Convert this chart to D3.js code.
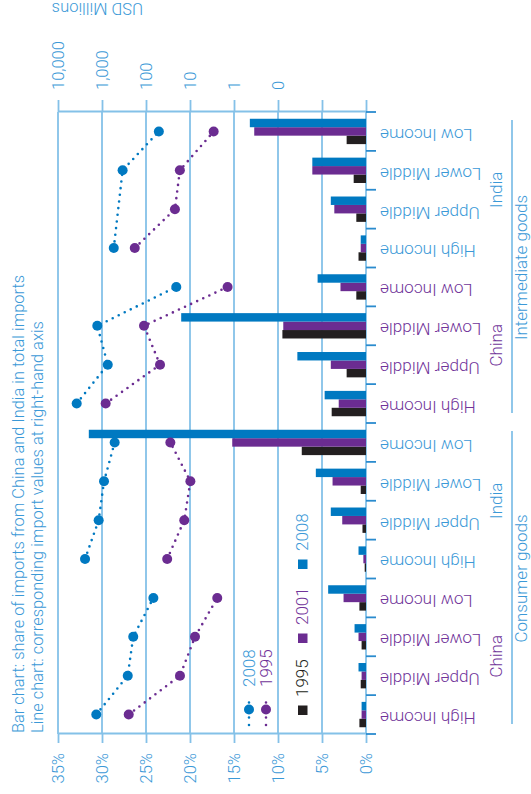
<!DOCTYPE html>
<html>
<head>
<meta charset="utf-8">
<script src="https://cdn.jsdelivr.net/npm/d3@7"></script>
<style>
  body { margin: 0; background: #fff; }
  svg text { font-family: Roboto, "Liberation Sans", Arial, sans-serif; font-weight: 300; }
</style>
</head>
<body>
<svg id="chart" width="531" height="794"></svg>
<script>
// ---- data ----------------------------------------------------------------
// categories run left to right: China consumer, India consumer, China intermediate, India intermediate
const incomeLevels = ["High Income", "Upper Middle", "Lower Middle", "Low Income"];
const countries = ["China", "India", "China", "India"];
const sectors = ["Consumer goods", "Intermediate goods"];
const barYears = ["1995", "2001", "2008"];
const lineYears = ["2008", "1995"];

// share of imports from China / India in total imports (%)
const share1995 = [0.75, 0.6, 0.5, 0.75,  0.15, 0.4, 0.6, 7.3,   3.9, 2.2, 9.5, 1.1,   0.85, 1.1, 1.4, 2.2];
const share2001 = [0.5, 0.5, 0.85, 2.55,  0.3, 2.7, 3.8, 15.2,   3.1, 4.0, 9.4, 2.9,   0.6, 3.6, 6.1, 12.7];
const share2008 = [0.5, 0.85, 1.3, 4.3,   0.85, 4.0, 5.7, 31.5,  4.7, 7.8, 21.0, 5.5,  0.6, 4.0, 6.1, 13.2];

// corresponding import values (USD millions, right-hand log axis)
const value2008 = [1350, 260, 195, 68,   2430, 1190, 900, 515,   3760, 740, 1280, 20.5,   540, null, 340, 51];
const value1995 = [247, 16.9, 7.7, 2.4,  33, 13.5, 9.8, 28,      825, 48, 111, 1.4,       180, 22, 17, 2.9];

const pctTicks = [0, 5, 10, 15, 20, 25, 30, 35];
const logTicks = [10000, 1000, 100, 10, 1, 0.1, 0.01, 0.001];
const logTickLabels = ["10,000", "1,000", "100", "10", "1", "0", "", ""];

// ---- styles ----------------------------------------------------------------
const C = {
  textBlue: "#3b99d7",
  grid: "#84c1e8",
  tick: "#2a8bce",
  blue: "#0079c1",
  purple: "#6b2c91",
  purpleText: "#71349a",
  black: "#231f20"
};
const barColor = { "1995": C.black, "2001": C.purple, "2008": C.blue };
const lineColor = { "2008": C.blue, "1995": C.purple };
const lineValues = { "2008": value2008, "1995": value1995 };
const barValues = { "1995": share1995, "2001": share2001, "2008": share2008 };

// The chart is laid out as a wide column chart (794 x 531) and turned a quarter
// turn counter-clockwise onto the portrait page.
const W = 794;
const svg = d3.select("#chart");
const g = svg.append("g").attr("transform", `translate(0,${W}) rotate(-90)`);

const plotLeft = 60, plotRight = 682, plotTop = 58, plotBottom = 366;
const cats = d3.range(16);
const x = d3.scaleBand().domain(cats).range([plotLeft, plotRight]);
const bw = x.bandwidth();
const xYear = d3.scaleBand().domain(barYears).range([0, bw]).paddingInner(0).paddingOuter(0.8);
const yPct = d3.scaleLinear().domain([0, 35]).range([plotBottom, plotTop]);
const yLog = d3.scaleLog().domain([0.001, 10000]).range([plotBottom, plotTop]);

// gridlines
g.append("g").selectAll("line").data(pctTicks).join("line")
  .attr("x1", plotLeft).attr("x2", plotRight)
  .attr("y1", d => yPct(d)).attr("y2", d => yPct(d))
  .attr("stroke", C.grid).attr("stroke-width", 1.8);

// left axis: share in %
const axL = g.append("g").attr("transform", `translate(${plotLeft},0)`)
  .call(d3.axisLeft(yPct).tickValues(pctTicks).tickSize(9).tickSizeOuter(0).tickPadding(10)
    .tickFormat(d => d + "%"));

// right axis: USD millions, log scale
const axR = g.append("g").attr("transform", `translate(${plotRight},0)`)
  .call(d3.axisRight(yLog).tickValues(logTicks).tickSize(12).tickSizeOuter(0).tickPadding(10)
    .tickFormat((d, i) => logTickLabels[i]));

[axL, axR].forEach(ax => {
  ax.attr("font-family", null);
  ax.select(".domain").attr("stroke", C.grid).attr("stroke-width", 1.8);
  ax.selectAll(".tick line").attr("stroke", C.grid).attr("stroke-width", 1.8);
  ax.selectAll(".tick text").attr("fill", C.textBlue).attr("font-size", 16.5);
});

g.append("text")
  .attr("transform", `translate(791,143) rotate(-90)`)
  .attr("fill", C.textBlue).attr("font-size", 16.5)
  .text("USD Millions");

// bars
barYears.forEach(yr => {
  g.append("g").selectAll("rect").data(cats).join("rect")
    .attr("x", c => x(c) + xYear(yr))
    .attr("width", xYear.bandwidth())
    .attr("y", c => yPct(barValues[yr][c]))
    .attr("height", c => plotBottom - yPct(barValues[yr][c]))
    .attr("fill", barColor[yr]);
});

// category axis: boundary ticks and rotated labels
const axB = g.append("g").attr("transform", `translate(0,${plotBottom})`)
  .call(d3.axisBottom(x).tickSize(0).tickPadding(14).tickFormat(c => incomeLevels[c % 4]));
axB.select(".domain").remove();
axB.attr("font-family", null);
axB.selectAll(".tick text")
  .attr("transform", "rotate(-90)")
  .attr("text-anchor", "end")
  .attr("dy", "0.15em")
  .attr("x", -14).attr("y", 0)
  .attr("font-size", 17.2)
  .attr("fill", c => countries[Math.floor(c / 4)] === "China" ? C.purpleText : C.textBlue);

g.append("g").selectAll("line").data(d3.range(17)).join("line")
  .attr("x1", i => plotLeft + i * x.step()).attr("x2", i => plotLeft + i * x.step())
  .attr("y1", plotBottom).attr("y2", plotBottom + 10)
  .attr("stroke", C.tick).attr("stroke-width", 1.8);

// country and sector labels
countries.forEach((name, k) => {
  const cx = (x(k * 4) + x(k * 4 + 3) + bw) / 2;
  g.append("text").attr("x", cx).attr("y", 502)
    .attr("text-anchor", "middle").attr("font-size", 17)
    .attr("fill", name === "China" ? C.purpleText : C.textBlue)
    .text(name);
});
sectors.forEach((name, k) => {
  const x0 = x(k * 8), x1 = x(k * 8 + 7) + bw;
  g.append("line").attr("x1", x0 + 10).attr("x2", x1 - 8)
    .attr("y1", 512).attr("y2", 512)
    .attr("stroke", C.grid).attr("stroke-width", 1.8);
  g.append("text").attr("x", (x0 + x1) / 2).attr("y", 527)
    .attr("text-anchor", "middle").attr("font-size", 17)
    .attr("fill", C.textBlue).text(name);
});

// dotted lines with markers, one run per country block
const line = d3.line().x(c => x(c) + bw / 2);
lineYears.forEach(yr => {
  const vals = lineValues[yr];
  line.y(c => yLog(vals[c]));
  const lg = g.append("g");
  d3.range(4).forEach(k => {
    const pts = d3.range(k * 4, k * 4 + 4).filter(c => vals[c] != null);
    lg.append("path").attr("d", line(pts))
      .attr("fill", "none").attr("stroke", lineColor[yr])
      .attr("stroke-width", 2.6).attr("stroke-linecap", "round")
      .attr("stroke-dasharray", "0 6.7");
  });
  lg.selectAll("circle").data(cats.filter(c => vals[c] != null)).join("circle")
    .attr("cx", c => x(c) + bw / 2).attr("cy", c => yLog(vals[c]))
    .attr("r", 5).attr("fill", lineColor[yr]);
});

// title
g.append("text").attr("x", 61).attr("y", 24).attr("font-size", 16.4).attr("fill", C.textBlue)
  .text("Bar chart: share of imports from China and India in total imports");
g.append("text").attr("x", 61).attr("y", 43).attr("font-size", 16.4).attr("fill", C.textBlue)
  .text("Line chart: corresponding import values at right-hand axis");

// legend: lines
const lineLegendY = { "2008": 249, "1995": 266 };
lineYears.forEach(yr => {
  const ly = lineLegendY[yr];
  g.append("line").attr("x1", 69).attr("x2", 99).attr("y1", ly).attr("y2", ly)
    .attr("stroke", lineColor[yr]).attr("stroke-width", 2.6)
    .attr("stroke-linecap", "round").attr("stroke-dasharray", "0 7.5");
  g.append("circle").attr("cx", 84.5).attr("cy", ly).attr("r", 5).attr("fill", lineColor[yr]);
  g.append("text").attr("x", 107).attr("y", ly + 6).attr("font-size", 17)
    .attr("fill", lineColor[yr] === C.purple ? C.purpleText : C.textBlue).text(yr);
});

// legend: bars
const barLegendX = { "1995": 79, "2001": 151, "2008": 225 };
barYears.forEach(yr => {
  const lx = barLegendX[yr];
  g.append("rect").attr("x", lx).attr("y", 298).attr("width", 9.5).attr("height", 9.5)
    .attr("fill", barColor[yr]);
  g.append("text").attr("x", lx + 18).attr("y", 308).attr("font-size", 17)
    .attr("fill", yr === "1995" ? C.black : yr === "2001" ? C.purpleText : C.textBlue)
    .text(yr);
});
</script>
</body>
</html>
